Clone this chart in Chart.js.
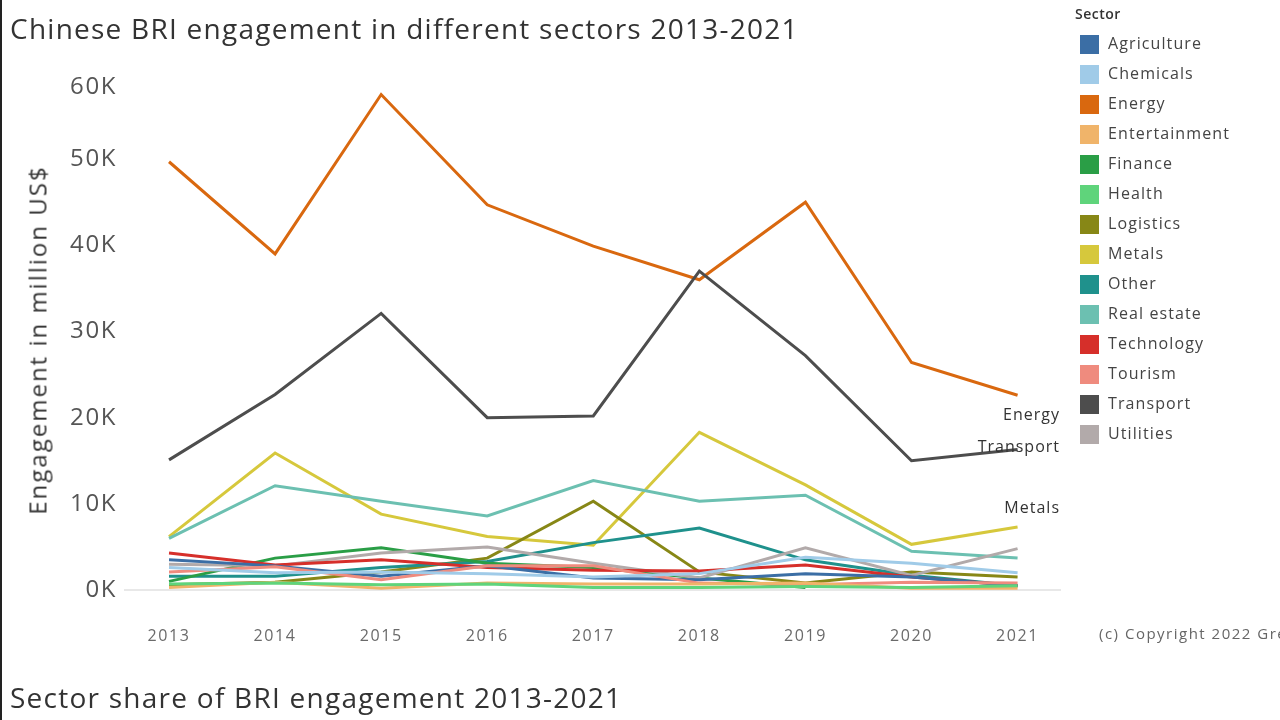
<!DOCTYPE html>
<html>
<head>
<meta charset="utf-8">
<script src="https://cdn.jsdelivr.net/npm/chart.js@4.4.1/dist/chart.umd.min.js"></script>
<style>
  html, body { margin: 0; padding: 0; background: #fff; }
  #wrap { position: relative; width: 1280px; height: 720px; overflow: hidden; background: #fff; font-family: "Open Sans", "DejaVu Sans", sans-serif; }
  #wrap:before { content: ""; position: absolute; left: 0; top: 0; width: 2px; height: 720px; background: #222; z-index: 5; }
  canvas { position: absolute; left: 0; top: 0; }
  .t { position: absolute; white-space: nowrap; color: #333; }
  #title { left: 10px; top: 9px; font-size: 28px; letter-spacing: 1.25px; }
  #title2 { left: 10px; top: 678px; font-size: 28px; letter-spacing: 1.25px; }
  #ytitle { left: 37px; top: 340px; font-size: 24px; letter-spacing: 2px; transform: translate(-50%, -50%) rotate(-90deg); }
  #copy { left: 1099px; top: 623px; font-size: 15px; color: #666; letter-spacing: 1.5px; }
  #legend { position: absolute; left: 1075px; top: 4px; }
  #legend .h { font-size: 14px; font-weight: 600; color: #333; height: 24px; letter-spacing: 0.5px; }
  #legend .it { position: relative; height: 30px; }
  #legend .sw { position: absolute; left: 5px; top: 7px; width: 19px; height: 19px; }
  #legend .lb { position: absolute; left: 33px; top: 4px; font-size: 16px; color: #444; white-space: nowrap; letter-spacing: 1.1px; }
</style>
</head>
<body>
<div id="wrap">
  <canvas id="c" width="1280" height="720"></canvas>
  <div class="t" id="title">Chinese BRI engagement in different sectors 2013-2021</div>
  <div class="t" id="title2">Sector share of BRI engagement 2013-2021</div>
  <div class="t" id="ytitle">Engagement in million US$</div>
  <div class="t" id="copy">(c) Copyright 2022 Green Finance &amp; Development Center</div>
  <div id="legend"></div>
</div>
<script>
// ---- data (million US$) ----
const years = [2013, 2014, 2015, 2016, 2017, 2018, 2019, 2020, 2021];
const sectors = ["Agriculture","Chemicals","Energy","Entertainment","Finance","Health","Logistics","Metals","Other","Real estate","Technology","Tourism","Transport","Utilities"];
const agriculture   = [3500, 2800, 1600, 2800, 1400, 1200, 1900, 1500, 500];
const chemicals     = [2600, 2000, 2100, 1900, 1500, 1900, 3800, 3100, 2000];
const energy        = [49700, 39000, 57500, 44700, 39900, 36000, 45000, 26400, 22600];
const entertainment = [300, 900, 200, 800, 700, 700, 800, 200, 200];
const finance       = [1000, 3700, 4900, 3100, 2600, 1400, 300, null, null];
const health        = [700, 800, 600, 700, 300, 300, 400, 300, 500];
const logistics     = [600, 900, 2100, 3700, 10300, 2100, 800, 2100, 1500];
const metals        = [6200, 15900, 8800, 6200, 5200, 18300, 12200, 5300, 7300];
const other         = [1600, 1600, 2600, 3300, 5500, 7200, 3500, 1700, 500];
const realEstate    = [6000, 12100, 10300, 8600, 12700, 10300, 11000, 4500, 3700];
const technology    = [4300, 2900, 3500, 2600, 2300, 2200, 2900, 1500, 500];
const tourism       = [2100, 2700, 1200, 2800, 2800, 800, 600, 900, 800];
const transport     = [15100, 22700, 32100, 20000, 20200, 37000, 27200, 15000, 16300];
const utilities     = [3000, 2800, 4300, 5000, 3100, 1400, 4900, 1700, 4800];
const yTicks = [0, 10000, 20000, 30000, 40000, 50000, 60000];
const endLabels = ["Energy", "Transport", "Metals"];

const seriesValues = [agriculture, chemicals, energy, entertainment, finance, health, logistics, metals, other, realEstate, technology, tourism, transport, utilities];
const colors = ["#3b6ea5","#a0cbe8","#d9680f","#f0b46a","#2a9e46","#5fd47b","#878716","#d6c83c","#1f918c","#6cc0b1","#d62f2a","#ef8b7e","#4d4d4d","#b2aaaa"];

// legend (HTML)
const lg = document.getElementById('legend');
lg.innerHTML = '<div class="h">Sector</div>' + sectors.map((s, i) =>
  `<div class="it"><div class="sw" style="background:${colors[i]}"></div><div class="lb">${s}</div></div>`).join('');

// draw order: small ones first, big ones on top
const order = [5,3,1,11,0,10,13,4,8,6,9,7,12,2];
const datasets = order.map(i => ({
  label: sectors[i],
  data: years.map((y, k) => ({ x: y, y: seriesValues[i][k] })),
  borderColor: colors[i],
  backgroundColor: colors[i],
  borderWidth: 3,
  pointRadius: 0,
  tension: 0,
  spanGaps: false
}));

const FONT = '"Open Sans", sans-serif';
const topTick = yTicks[yTicks.length - 1];

const textPlugin = {
  id: 'textTweaks',
  beforeDraw(chart) { chart.ctx.letterSpacing = '1.6px'; },
  afterDraw(chart) {
    const ctx = chart.ctx;
    const ys = chart.scales.y;
    ctx.save();
    // top tick label sits a little lower, as in the original
    ctx.letterSpacing = '1.6px';
    ctx.font = '24px ' + FONT;
    ctx.fillStyle = '#555';
    ctx.textAlign = 'right';
    ctx.textBaseline = 'middle';
    ctx.fillText((topTick / 1000) + 'K', ys.right - 8, ys.getPixelForValue(topTick) + 14);
    ctx.restore();
  },
  afterDatasetsDraw(chart) {
    const ctx = chart.ctx;
    const ys = chart.scales.y;
    ctx.save();
    ctx.letterSpacing = '1px';
    ctx.font = '16px ' + FONT;
    ctx.fillStyle = '#333';
    ctx.textAlign = 'right';
    ctx.textBaseline = 'middle';
    const offs = { "Energy": 20, "Transport": -2, "Metals": -19 };
    endLabels.forEach(name => {
      const idx = sectors.indexOf(name);
      const v = seriesValues[idx][years.length - 1];
      ctx.fillText(name, chart.chartArea.right, ys.getPixelForValue(v) + offs[name]);
    });
    ctx.restore();
  }
};

new Chart(document.getElementById('c'), {
  type: 'line',
  data: { datasets },
  options: {
    responsive: false,
    animation: false,
    layout: { padding: { top: 73, right: 220, bottom: 0, left: 0 } },
    plugins: { legend: { display: false }, tooltip: { enabled: false } },
    scales: {
      x: {
        type: 'linear',
        min: 2012.585,
        max: 2021.4,
        afterBuildTicks: s => { s.ticks = years.map(v => ({ value: v })); },
        afterFit: s => { s.height = 130; },
        grid: { display: false, drawTicks: false },
        border: { display: true, color: '#e8e8e8', width: 2 },
        ticks: { callback: v => String(v), color: '#6a6a6a', font: { size: 16, family: FONT }, padding: 37, maxRotation: 0 }
      },
      y: {
        min: 0,
        max: 60000,
        afterBuildTicks: s => { s.ticks = yTicks.map(v => ({ value: v })); },
        afterFit: s => { s.width = 125; },
        grid: { display: false, drawTicks: false },
        border: { display: false },
        ticks: { callback: v => (v === topTick ? '' : (v / 1000) + 'K'), color: '#555', font: { size: 24, family: FONT }, padding: 8 }
      }
    }
  },
  plugins: [textPlugin]
});
</script>
</body>
</html>
